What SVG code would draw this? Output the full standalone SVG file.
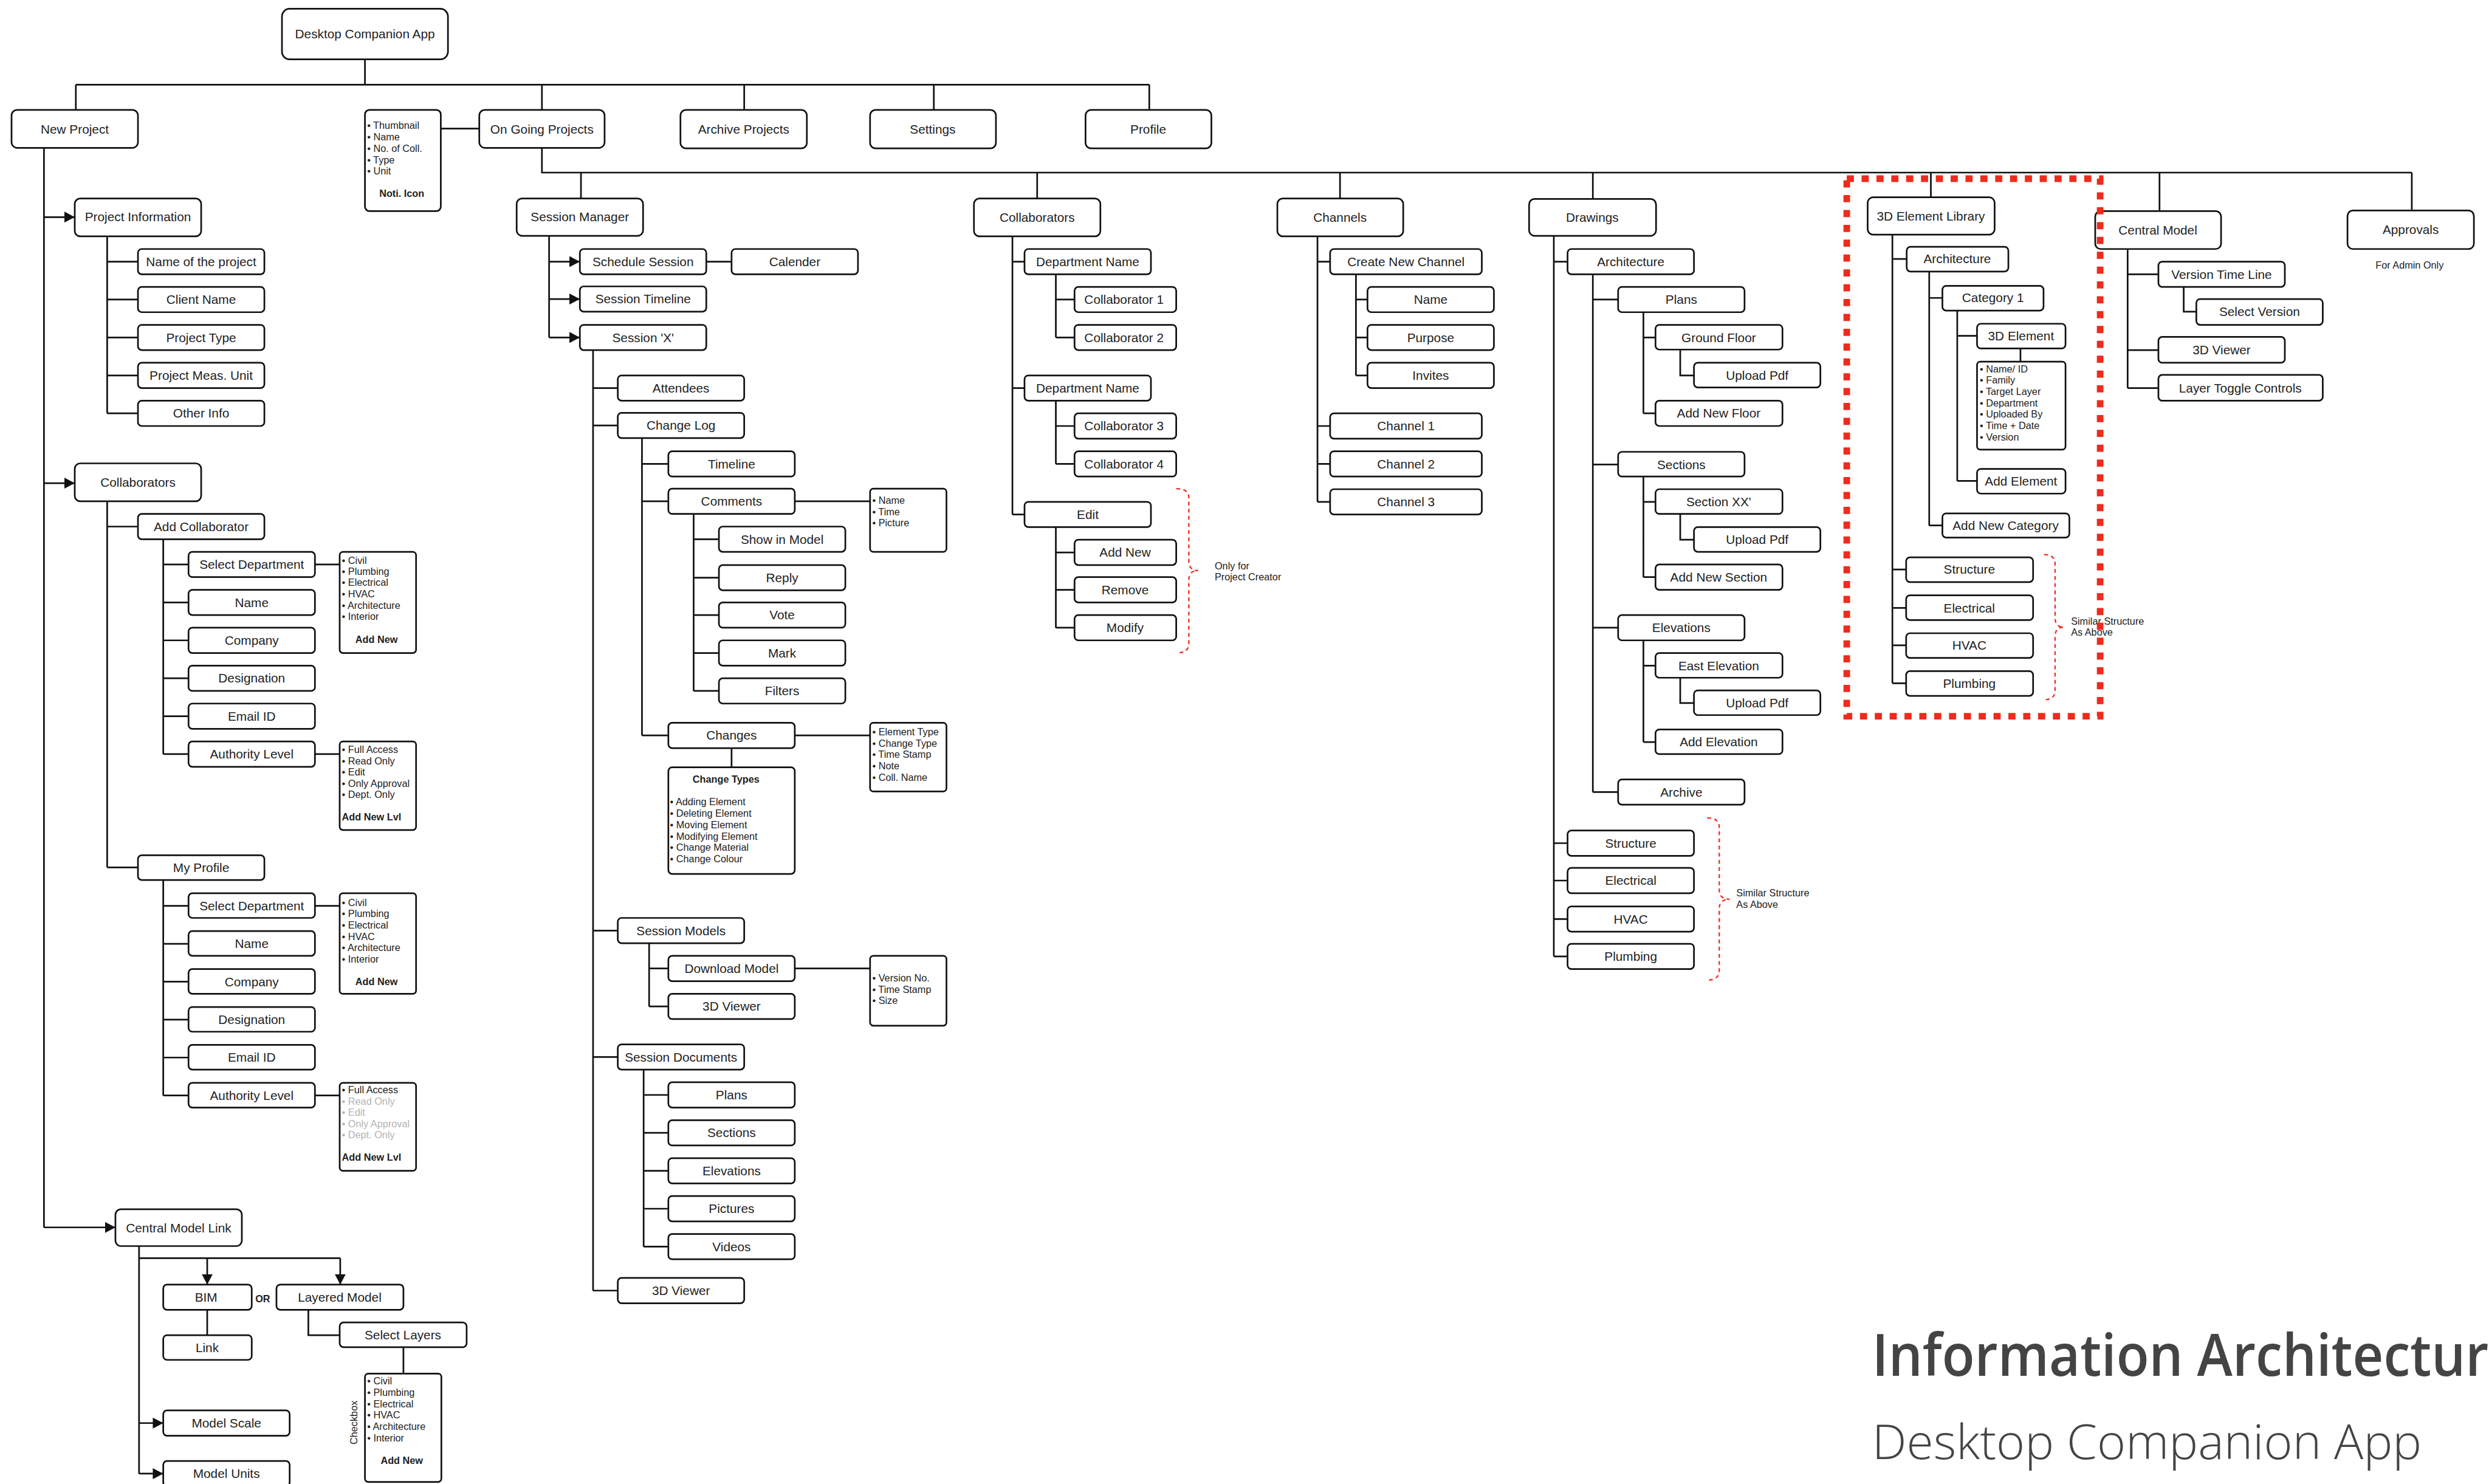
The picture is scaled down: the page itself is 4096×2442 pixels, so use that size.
<svg xmlns="http://www.w3.org/2000/svg" width="4096" height="2442" viewBox="0 0 4096 2442">
<style>
.bx{fill:#fff;stroke:#111;stroke-width:3}
.lb{font-family:'Liberation Sans',Arial,sans-serif;font-size:23px;fill:#222;text-anchor:middle}
.sm{font-family:'Liberation Sans',Arial,sans-serif;font-size:18px;fill:#222}
.smb{font-family:'Liberation Sans',Arial,sans-serif;font-size:18px;fill:#222;font-weight:bold}
.gr{fill:#b4b4b4}
.cn{fill:none;stroke:#111;stroke-width:3}
.ar{fill:none;stroke:#111;stroke-width:3;marker-end:url(#ah)}
.br{fill:none;stroke:#ee2b1c;stroke-width:2.5;stroke-dasharray:7 6}
.zone{fill:none;stroke:#ee2b1c;stroke-width:12;stroke-dasharray:13 14}
</style>
<defs>
<marker id="ah" markerUnits="userSpaceOnUse" markerWidth="19" markerHeight="20" viewBox="0 0 19 20" refX="19" refY="10" orient="auto">
<path d="M0,0 L19,10 L0,20 z" fill="#111"/>
</marker>
</defs>
<rect width="4096" height="2442" fill="#fff"/>
<g transform="scale(0.9045)">

<!-- connectors -->
<g id="connectors">
<path class="cn" d="M664,108 V154 M138,154 H2091 M138,154 V200 M986,154 V200 M1354,154 V200 M1699,154 V200 M2091,154 V200 M802,234 H872
M986,269 V314 H4388 M1057,314 V361 M1887,314 V361 M2438,314 V361 M2898,314 V362 M3513,314 V359 M3929,314 V384 M4388,314 V383"/>
<path class="cn" d="M80,269 V2233
M195,430 V752 M195,476 H251 M195,545 H251 M195,614 H251 M195,683 H251 M195,752 H251
M195,912 V1578 M195,958 H251 M195,1578 H251
M297,981 V1372 M297,1027 H343 M297,1096 H343 M297,1165 H343 M297,1234 H343 M297,1303 H343 M297,1372 H343
M573,1027 H618 M573,1372 H618
M297,1601 V1993 M297,1648 H343 M297,1717 H343 M297,1786 H343 M297,1855 H343 M297,1924 H343 M297,1993 H343
M573,1648 H618 M573,1993 H618
M253,2267 V2681 M253,2289 H619 M377,2383 V2429 M561,2383 V2429 H618 M734,2451 V2499"/>
<path class="cn" d="M999,429 V614 M1285,476 H1331
M1079,637 V2348 M1079,706 H1124 M1079,774 H1124 M1079,1693 H1124 M1079,1923 H1124 M1079,2348 H1124
M1168,797 V1338 M1168,844 H1216 M1168,912 H1216 M1168,1338 H1216
M1262,935 V1257 M1262,981 H1308 M1262,1051 H1308 M1262,1119 H1308 M1262,1188 H1308 M1262,1257 H1308
M1446,912 H1583 M1446,1338 H1583 M1331,1361 V1396
M1181,1716 V1831 M1181,1762 H1216 M1181,1831 H1216 M1446,1762 H1583
M1171,1947 V2268 M1171,1992 H1216 M1171,2061 H1216 M1171,2130 H1216 M1171,2199 H1216 M1171,2268 H1216"/>
<path class="cn" d="M1842,430 V936 M1842,476 H1864 M1842,706 H1864 M1842,936 H1864
M1921,499 V614 M1921,545 H1955 M1921,614 H1955
M1921,729 V844 M1921,775 H1955 M1921,844 H1955
M1921,959 V1142 M1921,1005 H1955 M1921,1073 H1955 M1921,1142 H1955
M2397,430 V913 M2397,476 H2420 M2397,775 H2420 M2397,844 H2420 M2397,913 H2420
M2467,499 V683 M2467,545 H2488 M2467,614 H2488 M2467,683 H2488"/>
<path class="cn" d="M2827,429 V1740 M2827,476 H2852 M2827,1534 H2852 M2827,1602 H2852 M2827,1672 H2852 M2827,1740 H2852
M2898,499 V1441 M2898,545 H2944 M2898,845 H2944 M2898,1142 H2944 M2898,1441 H2944
M2990,568 V752 M2990,614 H3012 M2990,752 H3012 M3057,636 V683 H3082
M2990,867 V1050 M2990,913 H3012 M2990,1050 H3012 M3057,935 V982 H3082
M2990,1165 V1350 M2990,1211 H3012 M2990,1350 H3012 M3057,1233 V1279 H3082"/>
<path class="cn" d="M3443,427 V1243 M3443,471 H3469 M3443,1036 H3469 M3443,1106 H3469 M3443,1174 H3469 M3443,1243 H3469
M3510,494 V956 M3510,542 H3534 M3510,956 H3534
M3561,565 V875 M3561,611 H3597 M3561,875 H3597 M3676,634 V658
M3871,453 V706 M3871,499 H3927 M3871,637 H3927 M3871,706 H3927 M3973,522 V567 H3996"/>
<path class="ar" d="M80,395 H136"/>
<path class="ar" d="M80,879 H136"/>
<path class="ar" d="M80,2233 H210"/>
<path class="ar" d="M253,2589 H297"/>
<path class="ar" d="M253,2681 H297"/>
<path class="ar" d="M377,2289 V2337"/>
<path class="ar" d="M619,2289 V2337"/>
<path class="ar" d="M999,476 H1055"/>
<path class="ar" d="M999,544 H1055"/>
<path class="ar" d="M999,614 H1055"/>
</g>

<!-- top level -->
<g id="n-root"><rect class="bx" x="513" y="16" width="302" height="92" rx="14"/><text class="lb" x="664" y="70">Desktop Companion App</text></g>
<g id="n-new-project"><rect class="bx" x="21" y="200" width="230" height="69" rx="10"/><text class="lb" x="136" y="243">New Project</text></g>
<g id="n-project-card"><rect class="bx" x="664" y="200" width="138" height="184" rx="8"/>
<text class="sm" x="668"><tspan x="668" y="234">• Thumbnail</tspan><tspan x="668" y="255">• Name</tspan><tspan x="668" y="276">• No. of Coll.</tspan><tspan x="668" y="297">• Type</tspan><tspan x="668" y="317">• Unit</tspan></text>
<text class="smb" x="731" y="358" text-anchor="middle">Noti. Icon</text></g>
<g id="n-ongoing"><rect class="bx" x="872" y="200" width="228" height="69" rx="10"/><text class="lb" x="986" y="243">On Going Projects</text></g>
<g id="n-archive"><rect class="bx" x="1238" y="200" width="230" height="70" rx="10"/><text class="lb" x="1353" y="243">Archive Projects</text></g>
<g id="n-settings"><rect class="bx" x="1583" y="200" width="229" height="70" rx="10"/><text class="lb" x="1697" y="243">Settings</text></g>
<g id="n-profile"><rect class="bx" x="1975" y="200" width="229" height="70" rx="10"/><text class="lb" x="2089" y="243">Profile</text></g>

<!-- new project branch -->
<g id="n-project-info"><rect class="bx" x="136" y="361" width="230" height="69" rx="10"/><text class="lb" x="251" y="403">Project Information</text></g>
<g id="n-pi-name"><rect class="bx" x="251" y="453" width="230" height="46" rx="7"/><text class="lb" x="366" y="484">Name of the project</text></g>
<g id="n-pi-client"><rect class="bx" x="251" y="522" width="230" height="46" rx="7"/><text class="lb" x="366" y="553">Client Name</text></g>
<g id="n-pi-type"><rect class="bx" x="251" y="591" width="230" height="46" rx="7"/><text class="lb" x="366" y="622">Project Type</text></g>
<g id="n-pi-unit"><rect class="bx" x="251" y="660" width="230" height="46" rx="7"/><text class="lb" x="366" y="691">Project Meas. Unit</text></g>
<g id="n-pi-other"><rect class="bx" x="251" y="729" width="230" height="46" rx="7"/><text class="lb" x="366" y="760">Other Info</text></g>

<g id="n-np-collab"><rect class="bx" x="136" y="843" width="230" height="69" rx="10"/><text class="lb" x="251" y="886">Collaborators</text></g>
<g id="n-add-collab"><rect class="bx" x="251" y="935" width="230" height="46" rx="7"/><text class="lb" x="366" y="966">Add Collaborator</text></g>
<g id="n-ac-dept"><rect class="bx" x="343" y="1004" width="230" height="46" rx="7"/><text class="lb" x="458" y="1035">Select Department</text></g>
<g id="n-ac-name"><rect class="bx" x="343" y="1073" width="230" height="46" rx="7"/><text class="lb" x="458" y="1104">Name</text></g>
<g id="n-ac-company"><rect class="bx" x="343" y="1142" width="230" height="46" rx="7"/><text class="lb" x="458" y="1173">Company</text></g>
<g id="n-ac-desig"><rect class="bx" x="343" y="1211" width="230" height="46" rx="7"/><text class="lb" x="458" y="1242">Designation</text></g>
<g id="n-ac-email"><rect class="bx" x="343" y="1280" width="230" height="46" rx="7"/><text class="lb" x="458" y="1311">Email ID</text></g>
<g id="n-ac-auth"><rect class="bx" x="343" y="1349" width="230" height="46" rx="7"/><text class="lb" x="458" y="1380">Authority Level</text></g>
<g id="n-ac-dept-list"><rect class="bx" x="618" y="1004" width="139" height="184" rx="6"/>
<text class="sm"><tspan x="622" y="1026">• Civil</tspan><tspan x="622" y="1046">• Plumbing</tspan><tspan x="622" y="1066">• Electrical</tspan><tspan x="622" y="1087">• HVAC</tspan><tspan x="622" y="1108">• Architecture</tspan><tspan x="622" y="1128">• Interior</tspan></text>
<text class="smb" x="685" y="1170" text-anchor="middle">Add New</text></g>
<g id="n-ac-auth-list"><rect class="bx" x="618" y="1349" width="139" height="161" rx="6"/>
<text class="sm"><tspan x="622" y="1370">• Full Access</tspan><tspan x="622" y="1391">• Read Only</tspan><tspan x="622" y="1411">• Edit</tspan><tspan x="622" y="1432">• Only Approval</tspan><tspan x="622" y="1452">• Dept. Only</tspan></text>
<text class="smb" x="622" y="1493">Add New Lvl</text></g>

<g id="n-my-profile"><rect class="bx" x="251" y="1556" width="230" height="45" rx="7"/><text class="lb" x="366" y="1587">My Profile</text></g>
<g id="n-mp-dept"><rect class="bx" x="343" y="1625" width="230" height="45" rx="7"/><text class="lb" x="458" y="1656">Select Department</text></g>
<g id="n-mp-name"><rect class="bx" x="343" y="1694" width="230" height="45" rx="7"/><text class="lb" x="458" y="1725">Name</text></g>
<g id="n-mp-company"><rect class="bx" x="343" y="1763" width="230" height="45" rx="7"/><text class="lb" x="458" y="1794">Company</text></g>
<g id="n-mp-desig"><rect class="bx" x="343" y="1832" width="230" height="45" rx="7"/><text class="lb" x="458" y="1863">Designation</text></g>
<g id="n-mp-email"><rect class="bx" x="343" y="1901" width="230" height="45" rx="7"/><text class="lb" x="458" y="1932">Email ID</text></g>
<g id="n-mp-auth"><rect class="bx" x="343" y="1970" width="230" height="45" rx="7"/><text class="lb" x="458" y="2001">Authority Level</text></g>
<g id="n-mp-dept-list"><rect class="bx" x="618" y="1625" width="139" height="183" rx="6"/>
<text class="sm"><tspan x="622" y="1648">• Civil</tspan><tspan x="622" y="1668">• Plumbing</tspan><tspan x="622" y="1689">• Electrical</tspan><tspan x="622" y="1710">• HVAC</tspan><tspan x="622" y="1730">• Architecture</tspan><tspan x="622" y="1751">• Interior</tspan></text>
<text class="smb" x="685" y="1792" text-anchor="middle">Add New</text></g>
<g id="n-mp-auth-list"><rect class="bx" x="618" y="1970" width="139" height="160" rx="6"/>
<text class="sm"><tspan x="622" y="1989">• Full Access</tspan><tspan class="gr" x="622" y="2010">• Read Only</tspan><tspan class="gr" x="622" y="2030">• Edit</tspan><tspan class="gr" x="622" y="2051">• Only Approval</tspan><tspan class="gr" x="622" y="2071">• Dept. Only</tspan></text>
<text class="smb" x="622" y="2112">Add New Lvl</text></g>

<g id="n-cml"><rect class="bx" x="210" y="2200" width="230" height="67" rx="10"/><text class="lb" x="325" y="2242">Central Model Link</text></g>
<g id="n-bim"><rect class="bx" x="297" y="2337" width="161" height="46" rx="7"/><text class="lb" x="375" y="2368">BIM</text></g>
<text class="smb" x="478" y="2369" text-anchor="middle" font-size="17">OR</text>
<g id="n-layered"><rect class="bx" x="503" y="2337" width="231" height="46" rx="7"/><text class="lb" x="618" y="2368">Layered Model</text></g>
<g id="n-link"><rect class="bx" x="297" y="2429" width="161" height="45" rx="7"/><text class="lb" x="377" y="2460">Link</text></g>
<g id="n-select-layers"><rect class="bx" x="618" y="2406" width="231" height="45" rx="7"/><text class="lb" x="733" y="2437">Select Layers</text></g>
<g id="n-layers-list"><rect class="bx" x="664" y="2499" width="139" height="197" rx="6"/>
<text class="sm"><tspan x="668" y="2518">• Civil</tspan><tspan x="668" y="2539">• Plumbing</tspan><tspan x="668" y="2560">• Electrical</tspan><tspan x="668" y="2580">• HVAC</tspan><tspan x="668" y="2601">• Architecture</tspan><tspan x="668" y="2622">• Interior</tspan></text>
<text class="smb" x="731" y="2663" text-anchor="middle">Add New</text></g>
<text class="sm" transform="translate(650,2588) rotate(-90)" text-anchor="middle">Checkbox</text>
<g id="n-model-scale"><rect class="bx" x="297" y="2566" width="230" height="46" rx="7"/><text class="lb" x="412" y="2597">Model Scale</text></g>
<g id="n-model-units"><rect class="bx" x="297" y="2658" width="230" height="46" rx="7"/><text class="lb" x="412" y="2689">Model Units</text></g>

<!-- session manager branch -->
<g id="n-session-mgr"><rect class="bx" x="940" y="361" width="230" height="68" rx="10"/><text class="lb" x="1055" y="403">Session Manager</text></g>
<g id="n-schedule"><rect class="bx" x="1055" y="453" width="230" height="46" rx="7"/><text class="lb" x="1170" y="484">Schedule Session</text></g>
<g id="n-calender"><rect class="bx" x="1331" y="453" width="230" height="46" rx="7"/><text class="lb" x="1446" y="484">Calender</text></g>
<g id="n-session-timeline"><rect class="bx" x="1055" y="521" width="230" height="46" rx="7"/><text class="lb" x="1170" y="552">Session Timeline</text></g>
<g id="n-session-x"><rect class="bx" x="1055" y="591" width="230" height="46" rx="7"/><text class="lb" x="1170" y="622">Session 'X'</text></g>
<g id="n-attendees"><rect class="bx" x="1124" y="683" width="230" height="46" rx="7"/><text class="lb" x="1239" y="714">Attendees</text></g>
<g id="n-change-log"><rect class="bx" x="1124" y="751" width="230" height="46" rx="7"/><text class="lb" x="1239" y="782">Change Log</text></g>
<g id="n-timeline"><rect class="bx" x="1216" y="821" width="230" height="46" rx="7"/><text class="lb" x="1331" y="852">Timeline</text></g>
<g id="n-comments"><rect class="bx" x="1216" y="889" width="230" height="46" rx="7"/><text class="lb" x="1331" y="920">Comments</text></g>
<g id="n-show-model"><rect class="bx" x="1308" y="958" width="230" height="46" rx="7"/><text class="lb" x="1423" y="989">Show in Model</text></g>
<g id="n-reply"><rect class="bx" x="1308" y="1028" width="230" height="46" rx="7"/><text class="lb" x="1423" y="1059">Reply</text></g>
<g id="n-vote"><rect class="bx" x="1308" y="1096" width="230" height="46" rx="7"/><text class="lb" x="1423" y="1127">Vote</text></g>
<g id="n-mark"><rect class="bx" x="1308" y="1165" width="230" height="46" rx="7"/><text class="lb" x="1423" y="1196">Mark</text></g>
<g id="n-filters"><rect class="bx" x="1308" y="1234" width="230" height="46" rx="7"/><text class="lb" x="1423" y="1265">Filters</text></g>
<g id="n-comments-list"><rect class="bx" x="1583" y="889" width="139" height="115" rx="6"/>
<text class="sm"><tspan x="1587" y="916">• Name</tspan><tspan x="1587" y="938">• Time</tspan><tspan x="1587" y="958">• Picture</tspan></text></g>
<g id="n-changes"><rect class="bx" x="1216" y="1315" width="230" height="46" rx="7"/><text class="lb" x="1331" y="1346">Changes</text></g>
<g id="n-changes-list"><rect class="bx" x="1583" y="1315" width="139" height="125" rx="6"/>
<text class="sm"><tspan x="1587" y="1338">• Element Type</tspan><tspan x="1587" y="1359">• Change Type</tspan><tspan x="1587" y="1379">• Time Stamp</tspan><tspan x="1587" y="1400">• Note</tspan><tspan x="1587" y="1421">• Coll. Name</tspan></text></g>
<g id="n-change-types"><rect class="bx" x="1216" y="1396" width="230" height="194" rx="7"/>
<text class="smb" x="1321" y="1424" text-anchor="middle">Change Types</text>
<text class="sm"><tspan x="1219" y="1465">• Adding Element</tspan><tspan x="1219" y="1486">• Deleting Element</tspan><tspan x="1219" y="1507">• Moving Element</tspan><tspan x="1219" y="1528">• Modifying Element</tspan><tspan x="1219" y="1548">• Change Material</tspan><tspan x="1219" y="1569">• Change Colour</tspan></text></g>
<g id="n-session-models"><rect class="bx" x="1124" y="1670" width="230" height="46" rx="7"/><text class="lb" x="1239" y="1701">Session Models</text></g>
<g id="n-download"><rect class="bx" x="1216" y="1739" width="230" height="46" rx="7"/><text class="lb" x="1331" y="1770">Download Model</text></g>
<g id="n-sm-viewer"><rect class="bx" x="1216" y="1808" width="230" height="46" rx="7"/><text class="lb" x="1331" y="1839">3D Viewer</text></g>
<g id="n-download-list"><rect class="bx" x="1583" y="1739" width="139" height="127" rx="6"/>
<text class="sm"><tspan x="1587" y="1785">• Version No.</tspan><tspan x="1587" y="1806">• Time Stamp</tspan><tspan x="1587" y="1826">• Size</tspan></text></g>
<g id="n-session-docs"><rect class="bx" x="1124" y="1900" width="230" height="46" rx="7"/><text class="lb" x="1239" y="1931">Session Documents</text></g>
<g id="n-sd-plans"><rect class="bx" x="1216" y="1969" width="230" height="46" rx="7"/><text class="lb" x="1331" y="2000">Plans</text></g>
<g id="n-sd-sections"><rect class="bx" x="1216" y="2038" width="230" height="46" rx="7"/><text class="lb" x="1331" y="2069">Sections</text></g>
<g id="n-sd-elevations"><rect class="bx" x="1216" y="2107" width="230" height="46" rx="7"/><text class="lb" x="1331" y="2138">Elevations</text></g>
<g id="n-sd-pictures"><rect class="bx" x="1216" y="2176" width="230" height="46" rx="7"/><text class="lb" x="1331" y="2207">Pictures</text></g>
<g id="n-sd-videos"><rect class="bx" x="1216" y="2245" width="230" height="46" rx="7"/><text class="lb" x="1331" y="2276">Videos</text></g>
<g id="n-sx-viewer"><rect class="bx" x="1124" y="2325" width="230" height="46" rx="7"/><text class="lb" x="1239" y="2356">3D Viewer</text></g>

<!-- collaborators branch -->
<g id="n-collab"><rect class="bx" x="1772" y="361" width="230" height="69" rx="10"/><text class="lb" x="1887" y="404">Collaborators</text></g>
<g id="n-dept1"><rect class="bx" x="1864" y="453" width="230" height="46" rx="7"/><text class="lb" x="1979" y="484">Department Name</text></g>
<g id="n-c1"><rect class="bx" x="1955" y="522" width="185" height="46" rx="7"/><text class="lb" x="2045" y="553">Collaborator 1</text></g>
<g id="n-c2"><rect class="bx" x="1955" y="591" width="185" height="46" rx="7"/><text class="lb" x="2045" y="622">Collaborator 2</text></g>
<g id="n-dept2"><rect class="bx" x="1864" y="683" width="230" height="46" rx="7"/><text class="lb" x="1979" y="714">Department Name</text></g>
<g id="n-c3"><rect class="bx" x="1955" y="752" width="185" height="46" rx="7"/><text class="lb" x="2045" y="783">Collaborator 3</text></g>
<g id="n-c4"><rect class="bx" x="1955" y="821" width="185" height="46" rx="7"/><text class="lb" x="2045" y="852">Collaborator 4</text></g>
<g id="n-edit"><rect class="bx" x="1864" y="913" width="230" height="46" rx="7"/><text class="lb" x="1979" y="944">Edit</text></g>
<g id="n-add-new"><rect class="bx" x="1955" y="982" width="185" height="46" rx="7"/><text class="lb" x="2047" y="1013">Add New</text></g>
<g id="n-remove"><rect class="bx" x="1955" y="1050" width="185" height="46" rx="7"/><text class="lb" x="2047" y="1081">Remove</text></g>
<g id="n-modify"><rect class="bx" x="1955" y="1119" width="185" height="46" rx="7"/><text class="lb" x="2047" y="1150">Modify</text></g>

<!-- channels branch -->
<g id="n-channels"><rect class="bx" x="2324" y="361" width="229" height="69" rx="10"/><text class="lb" x="2438" y="404">Channels</text></g>
<g id="n-create-channel"><rect class="bx" x="2420" y="453" width="276" height="46" rx="7"/><text class="lb" x="2558" y="484">Create New Channel</text></g>
<g id="n-ch-name"><rect class="bx" x="2488" y="522" width="230" height="46" rx="7"/><text class="lb" x="2603" y="553">Name</text></g>
<g id="n-ch-purpose"><rect class="bx" x="2488" y="591" width="230" height="46" rx="7"/><text class="lb" x="2603" y="622">Purpose</text></g>
<g id="n-ch-invites"><rect class="bx" x="2488" y="660" width="230" height="46" rx="7"/><text class="lb" x="2603" y="691">Invites</text></g>
<g id="n-ch1"><rect class="bx" x="2420" y="752" width="276" height="46" rx="7"/><text class="lb" x="2558" y="783">Channel 1</text></g>
<g id="n-ch2"><rect class="bx" x="2420" y="821" width="276" height="46" rx="7"/><text class="lb" x="2558" y="852">Channel 2</text></g>
<g id="n-ch3"><rect class="bx" x="2420" y="890" width="276" height="46" rx="7"/><text class="lb" x="2558" y="921">Channel 3</text></g>

<!-- drawings branch -->
<g id="n-drawings"><rect class="bx" x="2782" y="362" width="231" height="67" rx="10"/><text class="lb" x="2897" y="404">Drawings</text></g>
<g id="n-dr-arch"><rect class="bx" x="2852" y="453" width="230" height="46" rx="7"/><text class="lb" x="2967" y="484">Architecture</text></g>
<g id="n-dr-plans"><rect class="bx" x="2944" y="522" width="230" height="46" rx="7"/><text class="lb" x="3059" y="553">Plans</text></g>
<g id="n-dr-ground"><rect class="bx" x="3012" y="591" width="231" height="45" rx="7"/><text class="lb" x="3127" y="622">Ground Floor</text></g>
<g id="n-dr-up1"><rect class="bx" x="3082" y="660" width="230" height="45" rx="7"/><text class="lb" x="3197" y="691">Upload Pdf</text></g>
<g id="n-dr-floor"><rect class="bx" x="3012" y="729" width="231" height="46" rx="7"/><text class="lb" x="3127" y="760">Add New Floor</text></g>
<g id="n-dr-sections"><rect class="bx" x="2944" y="822" width="230" height="45" rx="7"/><text class="lb" x="3059" y="853">Sections</text></g>
<g id="n-dr-xx"><rect class="bx" x="3012" y="890" width="231" height="45" rx="7"/><text class="lb" x="3127" y="921">Section XX'</text></g>
<g id="n-dr-up2"><rect class="bx" x="3082" y="959" width="230" height="45" rx="7"/><text class="lb" x="3197" y="990">Upload Pdf</text></g>
<g id="n-dr-add-section"><rect class="bx" x="3012" y="1027" width="231" height="46" rx="7"/><text class="lb" x="3127" y="1058">Add New Section</text></g>
<g id="n-dr-elev"><rect class="bx" x="2944" y="1119" width="230" height="46" rx="7"/><text class="lb" x="3059" y="1150">Elevations</text></g>
<g id="n-dr-east"><rect class="bx" x="3012" y="1188" width="231" height="45" rx="7"/><text class="lb" x="3127" y="1219">East Elevation</text></g>
<g id="n-dr-up3"><rect class="bx" x="3082" y="1256" width="230" height="45" rx="7"/><text class="lb" x="3197" y="1287">Upload Pdf</text></g>
<g id="n-dr-add-elev"><rect class="bx" x="3012" y="1327" width="231" height="45" rx="7"/><text class="lb" x="3127" y="1358">Add Elevation</text></g>
<g id="n-dr-archive"><rect class="bx" x="2944" y="1418" width="230" height="46" rx="7"/><text class="lb" x="3059" y="1449">Archive</text></g>
<g id="n-dr-structure"><rect class="bx" x="2852" y="1511" width="230" height="46" rx="7"/><text class="lb" x="2967" y="1542">Structure</text></g>
<g id="n-dr-electrical"><rect class="bx" x="2852" y="1579" width="230" height="46" rx="7"/><text class="lb" x="2967" y="1610">Electrical</text></g>
<g id="n-dr-hvac"><rect class="bx" x="2852" y="1649" width="230" height="46" rx="7"/><text class="lb" x="2967" y="1680">HVAC</text></g>
<g id="n-dr-plumbing"><rect class="bx" x="2852" y="1717" width="230" height="46" rx="7"/><text class="lb" x="2967" y="1748">Plumbing</text></g>

<!-- 3D element library branch -->
<g id="n-lib"><rect class="bx" x="3398" y="359" width="231" height="68" rx="10"/><text class="lb" x="3513" y="401">3D Element Library</text></g>
<g id="n-lib-arch"><rect class="bx" x="3469" y="449" width="185" height="45" rx="7"/><text class="lb" x="3561" y="479">Architecture</text></g>
<g id="n-lib-cat"><rect class="bx" x="3534" y="520" width="184" height="45" rx="7"/><text class="lb" x="3626" y="550">Category 1</text></g>
<g id="n-lib-el"><rect class="bx" x="3597" y="589" width="161" height="45" rx="7"/><text class="lb" x="3677" y="619">3D Element</text></g>
<g id="n-lib-el-list"><rect class="bx" x="3597" y="658" width="161" height="160" rx="6"/>
<text class="sm"><tspan x="3602" y="678">• Name/ ID</tspan><tspan x="3602" y="698">• Family</tspan><tspan x="3602" y="719">• Target Layer</tspan><tspan x="3602" y="740">• Department</tspan><tspan x="3602" y="760">• Uploaded By</tspan><tspan x="3602" y="781">• Time + Date</tspan><tspan x="3602" y="802">• Version</tspan></text></g>
<g id="n-lib-add-el"><rect class="bx" x="3597" y="853" width="161" height="45" rx="7"/><text class="lb" x="3677" y="883">Add Element</text></g>
<g id="n-lib-add-cat"><rect class="bx" x="3534" y="934" width="231" height="44" rx="7"/><text class="lb" x="3649" y="964">Add New Category</text></g>
<g id="n-lib-structure"><rect class="bx" x="3468" y="1014" width="231" height="45" rx="7"/><text class="lb" x="3583" y="1044">Structure</text></g>
<g id="n-lib-electrical"><rect class="bx" x="3468" y="1083" width="231" height="45" rx="7"/><text class="lb" x="3583" y="1114">Electrical</text></g>
<g id="n-lib-hvac"><rect class="bx" x="3468" y="1152" width="231" height="45" rx="7"/><text class="lb" x="3583" y="1182">HVAC</text></g>
<g id="n-lib-plumbing"><rect class="bx" x="3468" y="1221" width="231" height="45" rx="7"/><text class="lb" x="3583" y="1251">Plumbing</text></g>

<!-- central model + approvals -->
<g id="n-central"><rect class="bx" x="3812" y="384" width="229" height="69" rx="10"/><text class="lb" x="3926" y="427">Central Model</text></g>
<g id="n-vtl"><rect class="bx" x="3927" y="476" width="230" height="46" rx="7"/><text class="lb" x="4042" y="507">Version Time Line</text></g>
<g id="n-sel-version"><rect class="bx" x="3996" y="544" width="230" height="47" rx="7"/><text class="lb" x="4111" y="575">Select Version</text></g>
<g id="n-cm-viewer"><rect class="bx" x="3927" y="613" width="230" height="47" rx="7"/><text class="lb" x="4042" y="645">3D Viewer</text></g>
<g id="n-layer-toggle"><rect class="bx" x="3927" y="682" width="299" height="47" rx="7"/><text class="lb" x="4076" y="714">Layer Toggle Controls</text></g>
<g id="n-approvals"><rect class="bx" x="4271" y="383" width="230" height="70" rx="10"/><text class="lb" x="4386" y="426">Approvals</text></g>
<text class="sm" x="4384" y="489" text-anchor="middle">For Admin Only</text>

<!-- notes with braces -->
<path class="br" d="M2140,889 Q2163,889 2163,906 V1021 Q2163,1038 2180,1038 Q2163,1038 2163,1055 V1171 Q2163,1188 2140,1188"/>
<text class="sm"><tspan x="2210" y="1036">Only for</tspan><tspan x="2210" y="1056">Project Creator</tspan></text>
<path class="br" d="M3106,1488 Q3128,1488 3128,1505 V1619 Q3128,1636 3147,1636 Q3128,1636 3128,1653 V1766 Q3128,1783 3106,1783"/>
<text class="sm"><tspan x="3159" y="1631">Similar Structure</tspan><tspan x="3159" y="1652">As Above</tspan></text>
<path class="br" d="M3719,1009 Q3739,1009 3739,1026 V1124 Q3739,1141 3755,1141 Q3739,1141 3739,1158 V1256 Q3739,1273 3719,1273"/>
<text class="sm"><tspan x="3768" y="1137">Similar Structure</tspan><tspan x="3768" y="1157">As Above</tspan></text>

<!-- highlighted region around the element library -->
<rect class="zone" x="3360" y="325" width="461" height="978"/>

<!-- title block -->
<text x="3406" y="2503" font-family="'Open Sans','Liberation Sans',sans-serif" font-weight="600" font-size="106" fill="#444" textLength="1178" lengthAdjust="spacingAndGlyphs">Information Architecture</text>
<text x="3406" y="2655" font-family="'Open Sans','Liberation Sans',sans-serif" font-weight="300" font-size="88" fill="#444" textLength="1000" lengthAdjust="spacingAndGlyphs">Desktop Companion App</text>
</g>
</svg>
